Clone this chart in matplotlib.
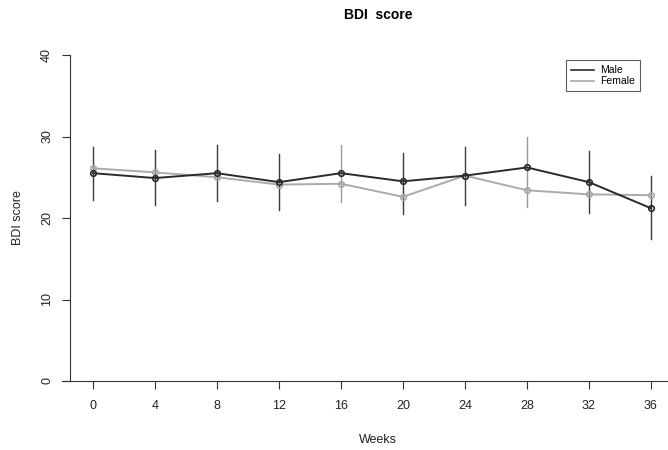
import numpy as np
import matplotlib.pyplot as plt

plt.rcParams['font.family'] = ['Liberation Sans', 'DejaVu Sans']

weeks = [0, 4, 8, 12, 16, 20, 24, 28, 32, 36]
male = [25.5, 24.9, 25.5, 24.4, 25.5, 24.5, 25.2, 26.2, 24.4, 21.2]
female = [26.1, 25.6, 25.0, 24.1, 24.2, 22.6, 25.2, 23.4, 22.9, 22.8]
err_low = [22.2, 21.6, 22.1, 21.0, 22.0, 20.5, 21.6, 21.3, 20.6, 17.4]
err_high = [28.7, 28.3, 28.9, 27.8, 29.0, 28.0, 28.7, 29.9, 28.2, 25.1]
err_cols = ['#3a3a3a', '#3a3a3a', '#3a3a3a', '#3a3a3a', '#999999',
            '#3a3a3a', '#3a3a3a', '#999999', '#3a3a3a', '#3a3a3a']

fig = plt.figure(figsize=(6.68, 4.5), dpi=100)
ax = fig.add_axes([62 / 668, 1 - 381 / 450, 606 / 668, 326 / 450])

for w, lo, hi, c in zip(weeks, err_low, err_high, err_cols):
    ax.plot([w, w], [lo, hi], color=c, lw=1.0, zorder=1)

ax.plot(weeks, female, color='#aaaaaa', lw=1.4, marker='o', ms=4,
        mfc='none', mec='#aaaaaa', mew=1.2, label='Female', zorder=2)
ax.plot(weeks, male, color='#2a2a2a', lw=1.4, marker='o', ms=4,
        mfc='none', mec='#2a2a2a', mew=1.2, label='Male', zorder=3)

ax.set_xlim(-2.0, 37.1)
ax.set_ylim(0, 40)
ax.spines['top'].set_visible(False)
ax.spines['right'].set_visible(False)
ax.spines['left'].set_position(('data', -1.5))
ax.spines['left'].set_color('#333333')
ax.spines['bottom'].set_color('#333333')

ax.set_xticks(weeks)
ax.set_yticks([0, 10, 20, 30, 40])
ax.tick_params(axis='both', labelsize=9, length=6, color='#333333', labelcolor='#222222')
ax.tick_params(axis='x', pad=8)
ax.tick_params(axis='y', pad=6)
for lab in ax.get_yticklabels():
    lab.set_rotation(90)
    lab.set_va('center')

fig.text(378 / 668, 1 - 440 / 450, 'Weeks', fontsize=9,
         ha='center', va='center', color='#222222')
fig.text(18 / 668, 1 - 218 / 450, 'BDI score', rotation=90, fontsize=9,
         ha='center', va='center', color='#222222')
fig.text(378 / 668, 1 - 15 / 450, 'BDI  score', fontsize=10, fontweight='bold',
         ha='center', va='center')

leg = ax.legend([plt.Line2D([], [], color='#2a2a2a', lw=1.2),
                 plt.Line2D([], [], color='#aaaaaa', lw=1.2)],
                ['Male', 'Female'], loc='upper left',
                bbox_to_anchor=((566 - 62) / 606, 1 - 5 / 326),
                fontsize=7.5, frameon=True, fancybox=False, handlelength=2.2,
                borderpad=0.5, labelspacing=0.1, handletextpad=0.6,
                borderaxespad=0)
leg.get_frame().set_edgecolor('#333333')
leg.get_frame().set_linewidth(0.8)

fig.savefig('out.png', dpi=100)
